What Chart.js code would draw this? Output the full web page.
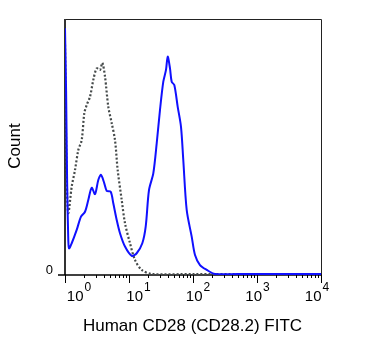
<!DOCTYPE html>
<html>
<head>
<meta charset="utf-8">
<script src="https://cdn.jsdelivr.net/npm/chart.js@4"></script>
<style>
html,body{margin:0;padding:0;background:#fff;}
canvas{display:block;}
</style>
</head>
<body>
<canvas id="c" width="375" height="356"></canvas>
<script>
// ---- data ----
const xTickValues = [1, 10, 100, 1000, 10000];
const xTickBase = '10';
const xTickExponents = ['0', '1', '2', '3', '4'];
const yTickValues = [0];
const yTickLabels = ['0'];
const xTitle = 'Human CD28 (CD28.2) FITC';
const yTitle = 'Count';

// CD28 stained (blue, solid)
const blueX = [1.0, 1.04, 1.08, 1.12, 1.155, 1.273, 1.523, 1.778, 2.054, 2.312, 2.614, 2.943, 3.313, 3.652, 4.112, 4.483, 5.177, 5.684, 6.424, 7.232, 8.66, 11.02, 13.19, 16.14, 18.23, 20.54, 23.97, 27.09, 30.5, 34.35, 37.85, 40.25, 43.71, 46.46, 51.05, 57.68, 64.94, 70.5, 79.7, 95.4, 107.5, 128.6, 163.7, 220.7, 500, 2000, 10000];
const blueY = [96.4, 72, 36, 16, 10.4, 12.4, 17.6, 22.8, 24.7, 29.3, 34.1, 31.6, 37.1, 39.1, 35.8, 32.9, 32.5, 28.0, 21.5, 16.3, 11.1, 7.5, 8.5, 12.4, 18.9, 33.2, 39.7, 51.4, 64.5, 75.5, 80.1, 85.3, 80.7, 75.5, 74.2, 65.7, 57.9, 44.9, 25.4, 15.0, 7.8, 3.9, 2.0, 0.4, 0.4, 0.4, 0.4];

// isotype control (grey, dotted)
const grayX = [1.0, 1.06, 1.126, 1.273, 1.433, 1.614, 1.823, 2.003, 2.183, 2.458, 2.768, 3.128, 3.522, 3.828, 4.217, 4.75, 5.37, 6.043, 6.656, 7.69, 8.66, 10.37, 12.4, 15.79, 22.63, 100, 1000, 10000];
const grayY = [90, 40, 24.2, 34.5, 41.0, 48.8, 52.7, 63.2, 66.4, 69.6, 76.2, 80.7, 80.1, 82.9, 77.5, 65.7, 59.3, 52.7, 41.0, 29.3, 20.2, 12.4, 5.9, 2.0, 0.4, 0.4, 0.4, 0.4];

const FONT = '"Liberation Sans", Arial, sans-serif';

const axesPlugin = {
  id: 'flowAxes',
  beforeDatasetsDraw(chart) {
    const ctx = chart.ctx;
    const a = chart.chartArea;
    const xs = chart.scales.x;
    const ys = chart.scales.y;
    ctx.save();
    // box top/right
    ctx.strokeStyle = '#222';
    ctx.lineWidth = 1;
    ctx.beginPath();
    ctx.moveTo(a.left, a.top + 0.5);
    ctx.lineTo(a.right + 0.5, a.top + 0.5);
    ctx.lineTo(a.right + 0.5, a.bottom);
    ctx.stroke();
    // left axis
    ctx.strokeStyle = '#333';
    ctx.lineWidth = 2;
    ctx.beginPath();
    ctx.moveTo(a.left, a.top);
    ctx.lineTo(a.left, a.bottom);
    ctx.stroke();
    // bottom axis
    ctx.strokeStyle = '#000';
    ctx.lineWidth = 1.5;
    ctx.beginPath();
    ctx.moveTo(a.left - 7, a.bottom);
    ctx.lineTo(a.right + 0.5, a.bottom);
    ctx.stroke();
    // x ticks (major + minor)
    ctx.lineWidth = 1;
    ctx.strokeStyle = '#000';
    for (let d = 0; d < xTickValues.length; d++) {
      const base = xTickValues[d];
      const px = Math.round(xs.getPixelForValue(base)) + 0.5;
      ctx.beginPath();
      ctx.moveTo(px, a.bottom);
      ctx.lineTo(px, a.bottom + 8);
      ctx.stroke();
      if (d < xTickValues.length - 1) {
        for (let m = 2; m <= 9; m++) {
          const mp = Math.round(xs.getPixelForValue(base * m)) + 0.5;
          ctx.beginPath();
          ctx.moveTo(mp, a.bottom);
          ctx.lineTo(mp, a.bottom + 3);
          ctx.stroke();
        }
      }
    }
    // x tick labels with superscripts
    ctx.fillStyle = '#000';
    ctx.textBaseline = 'alphabetic';
    for (let i = 0; i < xTickValues.length; i++) {
      const px = xs.getPixelForValue(xTickValues[i]);
      const center = px + 14 - 4.5 * i;
      ctx.font = '15px ' + FONT;
      const wb = ctx.measureText(xTickBase).width;
      ctx.font = '12px ' + FONT;
      const we = ctx.measureText(xTickExponents[i]).width;
      const start = center - (wb + we + 1) / 2;
      ctx.font = '15px ' + FONT;
      ctx.textAlign = 'left';
      ctx.fillText(xTickBase, start, 301);
      ctx.font = '12px ' + FONT;
      ctx.fillText(xTickExponents[i], start + wb + 1, 291);
    }
    // y tick
    for (let i = 0; i < yTickValues.length; i++) {
      const py = ys.getPixelForValue(yTickValues[i]);
      ctx.font = '13px ' + FONT;
      ctx.textAlign = 'right';
      ctx.textBaseline = 'middle';
      ctx.fillText(yTickLabels[i], a.left - 12, py - 5);
    }
    // titles
    ctx.font = '17px ' + FONT;
    ctx.textAlign = 'center';
    ctx.textBaseline = 'alphabetic';
    ctx.fillText(xTitle, 192.5, 331);
    ctx.save();
    ctx.translate(15, 146);
    ctx.rotate(-Math.PI / 2);
    ctx.textBaseline = 'middle';
    ctx.fillText(yTitle, 0, 0);
    ctx.restore();
    ctx.restore();
  }
};

new Chart(document.getElementById('c'), {
  type: 'line',
  data: {
    datasets: [
      {
        label: 'CD28',
        data: blueX.map((x, i) => ({x: x, y: blueY[i]})),
        borderColor: '#1010ff',
        borderWidth: 2,
        pointRadius: 0,
        fill: false,
        tension: 0.3
      },
      {
        label: 'Control',
        data: grayX.map((x, i) => ({x: x, y: grayY[i]})),
        borderColor: '#454a4a',
        borderWidth: 2.2,
        borderDash: [2, 2],
        pointRadius: 0,
        fill: false,
        tension: 0.3
      }
    ]
  },
  options: {
    responsive: false,
    animation: false,
    layout: {padding: {left: 65, right: 54, top: 19, bottom: 81}},
    plugins: {legend: {display: false}, tooltip: {enabled: false}},
    scales: {
      x: {type: 'logarithmic', min: 1, max: 10000, display: false},
      y: {type: 'linear', min: 0, max: 100, display: false}
    }
  },
  plugins: [axesPlugin]
});
</script>
</body>
</html>
